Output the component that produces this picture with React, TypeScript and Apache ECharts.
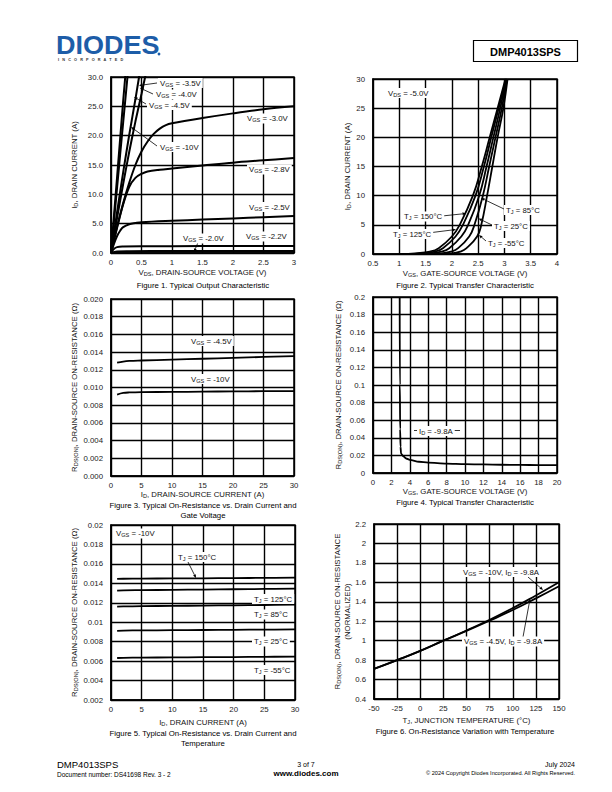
import React, { useEffect, useRef } from 'react';
import * as echarts from 'echarts';

const FONT = 'Liberation Sans, Arial, sans-serif';

// ---------- Figure 1: Typical Output Characteristic ----------
const fig1Vgs10 = [[0, 0], [0.05, 6.5], [0.1, 13], [0.15, 19.5], [0.2, 26], [0.25, 32]];
const fig1Vgs45 = [[0, 0], [0.05, 5.6], [0.1, 11.2], [0.15, 16.8], [0.2, 22.3], [0.27, 30], [0.3, 33]];
const fig1Vgs40 = [[0, 0], [0.1, 7], [0.2, 13.8], [0.3, 20.2], [0.4, 26.2], [0.46, 30], [0.5, 32.3]];
const fig1Vgs35 = [[0, 0], [0.1, 6], [0.2, 11.8], [0.3, 17.3], [0.4, 22.4], [0.5, 27.1], [0.56, 30], [0.6, 31.5]];
const fig1Vgs30 = [[0, 0], [0.1, 4.5], [0.2, 8.5], [0.3, 12], [0.4, 15], [0.5, 17.3], [0.6, 19], [0.7, 20.3], [0.8, 21.2], [0.9, 21.8], [1.0, 22.1], [1.5, 23], [2, 23.8], [2.5, 24.5], [3, 25]];
const fig1Vgs28 = [[0, 0], [0.1, 4.3], [0.2, 8.3], [0.3, 11.3], [0.4, 12.8], [0.5, 13.5], [0.6, 13.9], [0.8, 14.2], [1.0, 14.4], [1.5, 14.9], [2, 15.4], [2.5, 15.8], [3, 16.2]];
const fig1Vgs25 = [[0, 0], [0.05, 1.6], [0.1, 2.9], [0.15, 3.8], [0.2, 4.4], [0.3, 4.9], [0.4, 5.1], [0.5, 5.25], [1, 5.5], [1.5, 5.7], [2, 5.9], [2.5, 6.1], [3, 6.3]];
const fig1Vgs22 = [[0, 0], [0.05, 0.7], [0.1, 1.0], [0.2, 1.1], [0.5, 1.15], [1, 1.15], [2, 1.2], [3, 1.2]];
const fig1Vgs20 = [[0, 0], [0.1, 0.2], [0.3, 0.25], [1, 0.3], [2, 0.3], [3, 0.3]];

// ---------- Figure 2: Typical Transfer Characteristic ----------
const fig2Current = [0, 0.02, 0.1, 0.4, 1, 3, 5, 10, 15, 20, 25, 30];
const fig2V150 = [1.0, 1.15, 1.30, 1.58, 1.75, 2.00, 2.15, 2.40, 2.57, 2.72, 2.87, 3.02];
const fig2V125 = [1.0, 1.25, 1.45, 1.67, 1.83, 2.07, 2.21, 2.45, 2.61, 2.75, 2.89, 3.03];
const fig2V85 = [1.0, 1.35, 1.60, 1.80, 1.95, 2.18, 2.31, 2.52, 2.66, 2.79, 2.92, 3.04];
const fig2V25 = [1.0, 1.55, 1.80, 1.98, 2.12, 2.33, 2.43, 2.59, 2.71, 2.83, 2.95, 3.05];
const fig2Vm55 = [1.0, 1.75, 2.00, 2.16, 2.28, 2.48, 2.56, 2.67, 2.77, 2.87, 2.98, 3.06];

// ---------- Figure 3: On-Resistance vs Drain Current and Gate Voltage ----------
const fig3Current = [1, 2, 3, 5, 10, 15, 20, 25, 30];
const fig3Vgs45 = [0.0128, 0.01293, 0.0130, 0.01305, 0.01315, 0.01325, 0.01335, 0.01345, 0.01355];
const fig3Vgs10 = [0.0092, 0.00938, 0.00944, 0.00948, 0.0095, 0.00953, 0.00956, 0.00958, 0.0096];

// ---------- Figure 4: On-Resistance vs Gate Voltage ----------
const fig4Vgs = [2.9, 2.92, 2.95, 2.99, 3.05, 3.3, 3.6, 4, 5, 6, 8, 10, 12, 14, 16, 18, 20];
const fig4Rds = [0.2, 0.1, 0.05, 0.03, 0.022, 0.019, 0.0165, 0.015, 0.0128, 0.0118, 0.0107, 0.0101, 0.0097, 0.0094, 0.0092, 0.009, 0.0089];

// ---------- Figure 5: On-Resistance vs Drain Current and Temperature ----------
const fig5Current = [1, 2, 5, 10, 15, 20, 25, 30];
const fig5T150 = [0.01445, 0.01447, 0.01449, 0.0145, 0.01452, 0.01454, 0.01456, 0.01458];
const fig5T125 = [0.01325, 0.01328, 0.0133, 0.01333, 0.01336, 0.01339, 0.01342, 0.01345];
const fig5T85 = [0.01160, 0.01162, 0.01165, 0.01168, 0.01171, 0.01174, 0.01177, 0.0118];
const fig5T25 = [0.00912, 0.00914, 0.00916, 0.00918, 0.0092, 0.00922, 0.00924, 0.00926];
const fig5Tm55 = [0.00632, 0.00634, 0.00636, 0.00638, 0.0064, 0.00642, 0.00644, 0.00646];

// ---------- Figure 6: Normalized On-Resistance vs Temperature ----------
const fig6Temp = [-50, -25, 0, 25, 50, 75, 100, 125, 150];
const fig6Vgs10 = [0.71, 0.80, 0.895, 1.0, 1.105, 1.215, 1.335, 1.465, 1.60];
const fig6Vgs45 = [0.71, 0.80, 0.895, 1.0, 1.10, 1.205, 1.315, 1.435, 1.56];

const TXT = '#111';
const RICH = {
  n: { fontFamily: FONT, fontSize: 7.8, color: TXT, lineHeight: 10 },
  s: { fontFamily: FONT, fontSize: 5.6, color: TXT, lineHeight: 10, padding: [3, 0, 0, 0] },
};

const GRIDS = [
  { left: 111, top: 77, width: 183, height: 176 },
  { left: 373, top: 79, width: 184, height: 175 },
  { left: 111, top: 299, width: 183, height: 177 },
  { left: 373, top: 297, width: 184, height: 176 },
  { left: 111, top: 525, width: 184, height: 175 },
  { left: 374, top: 524, width: 185, height: 175 },
];

function makeAxis(gridIndex: number, min: number, max: number, interval: number, name: string, nameGap: number, fmt?: (v: number) => string, isY?: boolean) {
  return {
    type: 'value',
    gridIndex,
    min,
    max,
    interval,
    name,
    nameLocation: 'middle',
    nameGap,
    nameTextStyle: { rich: RICH, fontFamily: FONT, fontSize: 7.8, color: TXT },
    axisLine: { show: true, onZero: false, lineStyle: { color: '#000', width: 1.5 } },
    axisTick: { show: false },
    axisLabel: {
      fontFamily: FONT,
      fontSize: 7.8,
      color: '#222',
      margin: isY ? 8 : 5,
      formatter: fmt ? fmt : (v: number) => String(parseFloat(v.toFixed(4))),
    },
    splitLine: { show: true, lineStyle: { color: '#000', width: 1.4 } },
  };
}

function zipXY(xs: number[], ys: number[]) {
  return xs.map((x, i) => [x, ys[i]]);
}

function lineSeries(xi: number, data: number[][], width = 2, smooth: any = 0.3, mono = false) {
  const s: any = {
    type: 'line',
    xAxisIndex: xi,
    yAxisIndex: xi,
    data,
    showSymbol: false,
    symbol: 'none',
    smooth,
    lineStyle: { color: '#000', width },
    silent: true,
    z: 3,
  };
  if (mono) s.smoothMonotone = 'x';
  return s;
}

function label(x: number, y: number, text: string, align = 'left', bg = true) {
  return {
    type: 'text',
    x,
    y,
    z: 30,
    style: {
      text,
      rich: RICH,
      fontFamily: FONT,
      fontSize: 7.8,
      fill: TXT,
      align,
      verticalAlign: 'middle',
      backgroundColor: bg ? '#fff' : 'transparent',
      padding: [0, 2, 0, 2],
    },
  };
}

function arrow(x1: number, y1: number, x2: number, y2: number) {
  const a = Math.atan2(y2 - y1, x2 - x1);
  const L = 3.5, W = 1.5;
  const bx = x2 - L * Math.cos(a), by = y2 - L * Math.sin(a);
  const px = -Math.sin(a) * W, py = Math.cos(a) * W;
  return [
    { type: 'line', z: 25, shape: { x1, y1, x2: bx, y2: by }, style: { stroke: '#000', lineWidth: 0.8 } },
    { type: 'polygon', z: 25, shape: { points: [[x2, y2], [bx + px, by + py], [bx - px, by - py]] }, style: { fill: '#000' } },
  ];
}

function plainText(x: number, y: number, text: string, size: number, align = 'center', weight = 'normal', fill = '#000') {
  return {
    type: 'text', x, y, z: 30,
    style: { text, fontFamily: FONT, fontSize: size, fontWeight: weight, fill, align, verticalAlign: 'middle' },
  };
}

export default function App() {
  const ref = useRef<HTMLDivElement>(null);
  useEffect(() => {
    if (!ref.current) return;
    const chart = echarts.init(ref.current, undefined, { renderer: 'svg' });

    const xAxes = [
      makeAxis(0, 0, 3, 0.5, '{n|V}{s|DS}{n|, DRAIN-SOURCE VOLTAGE (V)}', 14),
      makeAxis(1, 0.5, 4, 0.5, '{n|V}{s|GS}{n|, GATE-SOURCE VOLTAGE (V)}', 14),
      makeAxis(2, 0, 30, 5, '{n|I}{s|D}{n|, DRAIN-SOURCE CURRENT (A)}', 13),
      makeAxis(3, 0, 20, 2, '{n|V}{s|GS}{n|, GATE-SOURCE VOLTAGE (V)}', 13),
      makeAxis(4, 0, 30, 5, '{n|I}{s|D}{n|, DRAIN CURRENT (A)}', 17),
      makeAxis(5, -50, 150, 25, '{n|T}{s|J}{n|, JUNCTION TEMPERATURE (°C)}', 16),
    ];
    const yAxes = [
      makeAxis(0, 0, 30, 5, '{n|I}{s|D}{n|, DRAIN CURRENT (A)}', 32, (v) => v.toFixed(1), true),
      makeAxis(1, 0, 30, 5, '{n|I}{s|D}{n|, DRAIN CURRENT (A)}', 19, undefined, true),
      makeAxis(2, 0, 0.02, 0.002, '{n|R}{s|DS(ON)}{n|, DRAIN-SOURCE ON-RESISTANCE (Ω)}', 32, (v) => v.toFixed(3), true),
      makeAxis(3, 0, 0.2, 0.02, '{n|R}{s|DS(ON)}{n|, DRAIN-SOURCE ON-RESISTANCE (Ω)}', 30, undefined, true),
      makeAxis(4, 0.002, 0.02, 0.002, '{n|R}{s|DS(ON)}{n|, DRAIN-SOURCE ON-RESISTANCE (Ω)}', 32, undefined, true),
      makeAxis(5, 0.4, 2.2, 0.2, '{n|R}{s|DS(ON)}{n|, DRAIN-SOURCE ON-RESISTANCE}\n{n|(NORMALIZED)}', 22, undefined, true),
    ];

    const series = [
      lineSeries(0, fig1Vgs10, 2, false),
      lineSeries(0, fig1Vgs45, 2, false),
      lineSeries(0, fig1Vgs40, 2, 0.2),
      lineSeries(0, fig1Vgs35, 2, 0.2),
      lineSeries(0, fig1Vgs30, 2, 0.35),
      lineSeries(0, fig1Vgs28, 2, 0.35),
      lineSeries(0, fig1Vgs25, 2, 0.35),
      lineSeries(0, fig1Vgs22, 2, 0.35),
      lineSeries(0, fig1Vgs20, 2.5, 0.35),

      lineSeries(1, zipXY(fig2V150, fig2Current), 1.8, 0.45),
      lineSeries(1, zipXY(fig2V125, fig2Current), 1.8, 0.45),
      lineSeries(1, zipXY(fig2V85, fig2Current), 1.8, 0.45),
      lineSeries(1, zipXY(fig2V25, fig2Current), 1.8, 0.45),
      lineSeries(1, zipXY(fig2Vm55, fig2Current), 1.8, 0.45),

      lineSeries(2, zipXY(fig3Current, fig3Vgs45), 1.8, 0.4),
      lineSeries(2, zipXY(fig3Current, fig3Vgs10), 1.8, 0.4),

      lineSeries(3, zipXY(fig4Vgs, fig4Rds), 1.8, 0.3, true),

      lineSeries(4, zipXY(fig5Current, fig5T150), 1.8, 0.4),
      lineSeries(4, zipXY(fig5Current, fig5T125), 1.8, 0.4),
      lineSeries(4, zipXY(fig5Current, fig5T85), 1.8, 0.4),
      lineSeries(4, zipXY(fig5Current, fig5T25), 1.8, 0.4),
      lineSeries(4, zipXY(fig5Current, fig5Tm55), 1.8, 0.4),

      lineSeries(5, zipXY(fig6Temp, fig6Vgs10), 1.8, 0.5),
      lineSeries(5, zipXY(fig6Temp, fig6Vgs45), 1.8, 0.5),
    ];

    const graphics: any[] = [
      // header
      { type: 'text', x: 56, y: 45.5, z: 30, scaleX: 1.08, style: { text: 'DIODES', fontFamily: FONT, fontSize: 25, fontWeight: 900, fill: '#1d5da8', align: 'left', verticalAlign: 'middle' } },
      { type: 'circle', z: 30, shape: { cx: 159, cy: 54, r: 1.4 }, style: { fill: '#1d5da8' } },
      plainText(58, 60, 'I   N   C   O   R   P   O   R   A   T   E   D', 3.8, 'left', 'bold', '#333'),
      { type: 'rect', z: 30, shape: { x: 473.5, y: 40.5, width: 104, height: 21 }, style: { fill: 'none', stroke: '#000', lineWidth: 1.2 } },
      plainText(525.5, 51.5, 'DMP4013SPS', 11, 'center', 'bold'),

      // captions
      plainText(203, 285, 'Figure 1. Typical Output Characteristic', 7.8),
      plainText(465, 285, 'Figure 2. Typical Transfer Characteristic', 7.8),
      plainText(203, 505, 'Figure 3. Typical On-Resistance vs. Drain Current and', 7.8),
      plainText(203, 515.5, 'Gate Voltage', 7.8),
      plainText(465, 502, 'Figure 4. Typical Transfer Characteristic', 7.8),
      plainText(203, 733, 'Figure 5. Typical On-Resistance vs. Drain Current and', 7.8),
      plainText(203, 743.5, 'Temperature', 7.8),
      plainText(465, 731, 'Figure 6. On-Resistance Variation with Temperature', 7.8),

      // footer
      plainText(57, 764.5, 'DMP4013SPS', 9.5, 'left'),
      plainText(57, 774, 'Document number: DS41698 Rev. 3 - 2', 6.5, 'left'),
      plainText(306, 764.5, '3 of 7', 7, 'center'),
      plainText(306, 773.5, 'www.diodes.com', 8, 'center', 'bold'),
      plainText(575, 764.5, 'July 2024', 7, 'right'),
      plainText(575, 773, '© 2024 Copyright Diodes Incorporated. All Rights Reserved.', 5.6, 'right'),

      // figure 1 labels
      ...arrow(157, 83, 139, 85.5),
      ...arrow(153, 94, 140, 88),
      ...arrow(146, 104, 134, 97),
      ...arrow(157, 146, 131, 127),
      label(158, 83, '{n|V}{s|GS}{n| = -3.5V}'),
      label(154, 94.5, '{n|V}{s|GS}{n| = -4.0V}'),
      label(147, 105, '{n|V}{s|GS}{n| = -4.5V}'),
      label(158, 147, '{n|V}{s|GS}{n| = -10V}'),
      label(245, 118.5, '{n|V}{s|GS}{n| = -3.0V}'),
      label(247, 169.5, '{n|V}{s|GS}{n| = -2.8V}'),
      label(247, 207, '{n|V}{s|GS}{n| = -2.5V}'),
      label(244, 236.5, '{n|V}{s|GS}{n| = -2.2V}'),
      ...arrow(199, 240, 194, 252),
      label(181, 238.5, '{n|V}{s|GS}{n| = -2.0V}'),

      // figure 2 labels
      label(386, 93, '{n|V}{s|DS}{n| = -5.0V}'),
      ...arrow(442, 216, 466, 213.5),
      label(402, 216.5, '{n|T}{s|J}{n| = 150°C}'),
      ...arrow(428, 233, 456, 229.5),
      label(391, 234, '{n|T}{s|J}{n| = 125°C}'),
      ...arrow(504, 209, 481, 198),
      label(504, 210, '{n|T}{s|J}{n| = 85°C}'),
      ...arrow(492, 225, 478.5, 218.5),
      label(492, 226, '{n|T}{s|J}{n| = 25°C}'),
      ...arrow(486, 241, 479, 235),
      label(486, 243, '{n|T}{s|J}{n| = -55°C}'),

      // figure 3 labels
      label(189, 341, '{n|V}{s|GS}{n| = -4.5V}'),
      label(189, 379, '{n|V}{s|GS}{n| = -10V}'),

      // figure 4 label
      { type: 'line', z: 25, shape: { x1: 414, y1: 430.5, x2: 460, y2: 430.5 }, style: { stroke: '#000', lineWidth: 0.8 } },
      label(417, 431, '{n|I}{s|D}{n| = -9.8A}'),

      // figure 5 labels
      label(114, 533.5, '{n|V}{s|GS}{n| = -10V}'),
      ...arrow(188, 562, 196, 578),
      label(176, 557, '{n|T}{s|J}{n| = 150°C}'),
      label(252, 599, '{n|T}{s|J}{n| = 125°C}'),
      label(252, 614.5, '{n|T}{s|J}{n| = 85°C}'),
      label(252, 641.5, '{n|T}{s|J}{n| = 25°C}'),
      label(252, 670, '{n|T}{s|J}{n| = -55°C}'),

      // figure 6 labels
      ...arrow(528, 577, 543, 590),
      label(461, 572, '{n|V}{s|GS}{n| = -10V, I}{s|D}{n| = -9.8A}'),
      ...arrow(523, 637, 530, 599),
      label(462, 641.5, '{n|V}{s|GS}{n| = -4.5V, I}{s|D}{n| = -9.8A}'),
    ];

    chart.setOption({
      animation: false,
      backgroundColor: '#fff',
      textStyle: { fontFamily: FONT },
      grid: GRIDS.map((g) => ({ ...g, show: true, borderColor: '#000', borderWidth: 1.5, backgroundColor: 'transparent' })),
      xAxis: xAxes,
      yAxis: yAxes,
      series,
      graphic: graphics,
    });
    return () => chart.dispose();
  }, []);
  return <div ref={ref} style={{ position: 'absolute', left: 0, top: 0, width: 612, height: 792, background: '#fff' }} />;
}
